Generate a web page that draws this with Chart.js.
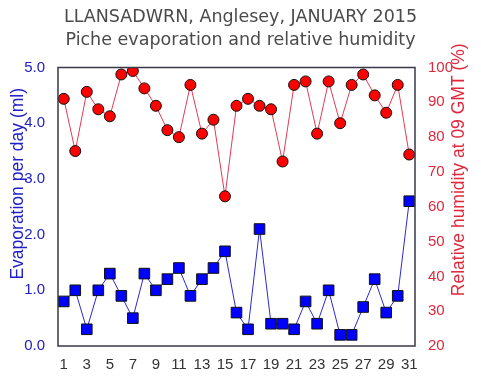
<!DOCTYPE html>
<html lang="en">
<head>
<meta charset="UTF-8">
<title>Llansadwrn evaporation and humidity, January 2015</title>
<script src="https://cdn.jsdelivr.net/npm/chart.js"></script>
<style>
  html, body { margin: 0; padding: 0; background: #fff; }
  #wrap { width: 481px; height: 378px; }
</style>
</head>
<body>
<div id="wrap"><canvas id="chart" width="481" height="378"></canvas></div>
<script>
// days of January 2015
const days = Array.from({ length: 31 }, (_, i) => String(i + 1));

// Piche evaporation per day (ml)
const evaporation = [0.8, 1.0, 0.3, 1.0, 1.3, 0.9, 0.5, 1.3, 1.0, 1.2,
                     1.4, 0.9, 1.2, 1.4, 1.7, 0.6, 0.3, 2.1, 0.4, 0.4,
                     0.3, 0.8, 0.4, 1.0, 0.2, 0.2, 0.7, 1.2, 0.6, 0.9, 2.6];

// relative humidity at 09 GMT (%)
const humidity = [91, 76, 93, 88, 86, 98, 99, 94, 89, 82,
                  80, 95, 81, 85, 63, 89, 91, 89, 88, 73,
                  95, 96, 81, 96, 84, 95, 98, 92, 87, 95, 75];

const titleLines = ['LLANSADWRN, Anglesey, JANUARY 2015', 'Piche evaporation and relative humidity'];
const leftTitle = 'Evaporation per day (ml)';
const rightTitle = 'Relative humidity at 09 GMT (%)';

const TFONT = "'DejaVu Sans', Verdana, sans-serif";
const FONT = "'Liberation Sans', Arial, sans-serif";
const BLUE = '#2020c8';
const RED = '#e0283c';

// rotated axis title, read bottom to top
function sideTitle(ctx, text, x, y, color) {
  ctx.save();
  ctx.translate(x, y);
  ctx.rotate(-Math.PI / 2);
  ctx.fillStyle = color;
  ctx.font = '17.5px ' + FONT;
  ctx.textAlign = 'center';
  ctx.textBaseline = 'middle';
  ctx.fillText(text, 0, 0);
  ctx.restore();
}

// box round the plot area, plus both axis titles
const frame = {
  id: 'frame',
  afterDatasetsDraw(chart) {
    const { ctx, chartArea: a } = chart;
    ctx.save();
    ctx.strokeStyle = '#3a3a4a';
    ctx.lineWidth = 1.5;
    ctx.strokeRect(a.left, a.top, a.right - a.left, a.bottom - a.top);
    ctx.restore();
  },
  afterDraw(chart) {
    const { ctx, chartArea: a } = chart;
    const mid = (a.top + a.bottom) / 2;
    sideTitle(ctx, leftTitle, 18, mid - 23, BLUE);
    sideTitle(ctx, rightTitle, 459, mid - 37, RED);
  }
};

new Chart(document.getElementById('chart'), {
  type: 'line',
  data: {
    labels: days,
    datasets: [
      {
        label: 'Relative humidity',
        data: humidity,
        yAxisID: 'y1',
        borderColor: '#e33a55',
        borderWidth: 1,
        pointStyle: 'circle',
        pointRadius: 5.5,
        pointBackgroundColor: '#ff0000',
        pointBorderColor: '#111',
        pointBorderWidth: 1,
        tension: 0
      },
      {
        label: 'Evaporation',
        data: evaporation,
        yAxisID: 'y',
        borderColor: '#2a2ad0',
        borderWidth: 1,
        pointStyle: 'rect',
        pointRadius: 7.5,
        pointBackgroundColor: '#0000ff',
        pointBorderColor: '#111',
        pointBorderWidth: 1,
        tension: 0
      }
    ]
  },
  options: {
    responsive: false,
    animation: false,
    layout: { padding: { left: 0, right: 0, top: 0, bottom: 2 } },
    plugins: {
      legend: { display: false },
      tooltip: { enabled: false },
      title: {
        display: true,
        text: titleLines,
        color: '#4a4a4a',
        font: { family: TFONT, size: 17.5, weight: 'normal', lineHeight: 1.3 },
        padding: { top: 6, bottom: 16 }
      }
    },
    scales: {
      x: {
        grid: { display: false },
        border: { display: false },
        offset: true,
        ticks: {
          autoSkip: false,
          maxRotation: 0,
          color: '#333',
          font: { family: FONT, size: 15 },
          padding: 2,
          callback: (v, i) => (i % 2 === 0 ? days[i] : '')
        }
      },
      y: {
        position: 'left',
        min: 0,
        max: 5,
        grid: { display: false },
        border: { display: false },
        afterFit: scale => { scale.width = 58; },
        ticks: {
          stepSize: 1,
          color: BLUE,
          font: { family: FONT, size: 15 },
          padding: 5,
          callback: v => v.toFixed(1)
        }
      },
      y1: {
        position: 'right',
        min: 20,
        max: 100,
        grid: { display: false },
        border: { display: false },
        afterFit: scale => { scale.width = 66; },
        ticks: {
          stepSize: 10,
          color: RED,
          font: { family: FONT, size: 15 },
          padding: 5
        }
      }
    }
  },
  plugins: [frame]
});
</script>
</body>
</html>
